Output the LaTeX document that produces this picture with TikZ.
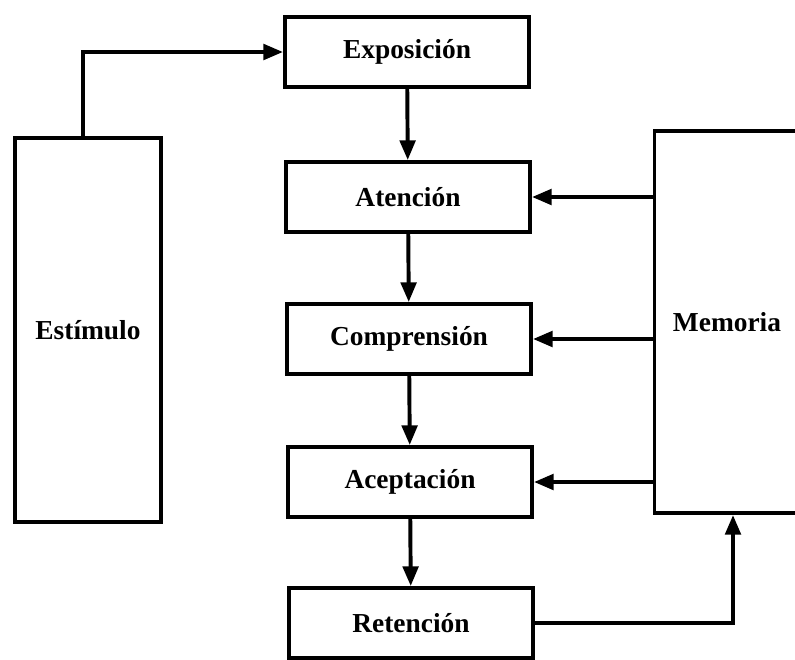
\documentclass[tikz,border=0pt]{standalone}
\usepackage{fontspec}
\setmainfont{Liberation Serif}
\usetikzlibrary{arrows.meta}

\tikzset{
	caja/.style={draw, line width=2.8pt, inner sep=0pt,
		minimum width=6.1cm, minimum height=1.75cm,
		font=\bfseries\fontsize{19.5}{22}\selectfont},
	flecha/.style={line width=2.8pt, -{Triangle[length=14pt,width=11pt]}}
}

\begin{document}
\begin{tikzpicture}[x=0.025cm, y=-0.025cm]
	\useasboundingbox (0,0) rectangle (795,659);
	\clip (0,0) rectangle (795,659);

	%Cajas del proceso (columna central)
	\node[caja] (expo)   at (407,52)  {Exposición};
	\node[caja] (aten)   at (408,197) {Atención};
	\node[caja] (compr)  at (409,339) {Comprensión};
	\node[caja] (acep)   at (410,482) {Aceptación};
	\node[caja] (reten)  at (411,623) {Retención};

	%Cajas laterales
	\node[caja, minimum width=3.65cm, minimum height=9.575cm] (estim) at (88,330) {Estímulo};
	\node[caja, minimum width=3.625cm, minimum height=9.55cm] (memo) at (727,322) {Memoria};

	%Flechas hacia abajo
	\draw[flecha] ([xshift=-0.125cm]estim.north) |- (expo.west);
	\draw[flecha] (expo) -- (aten);
	\draw[flecha] (aten) -- (compr);
	\draw[flecha] (compr) -- (acep);
	\draw[flecha] (acep) -- (reten);

	%Flechas desde la memoria
	\draw[flecha] (memo.west |- aten.east) -- (aten.east);
	\draw[flecha] (memo.west |- compr.east) -- (compr.east);
	\draw[flecha] (memo.west |- acep.east) -- (acep.east);

	%Retencion vuelve a la memoria
	\draw[flecha] (reten.east) -| ([xshift=0.15cm]memo.south);
\end{tikzpicture}
\end{document}
